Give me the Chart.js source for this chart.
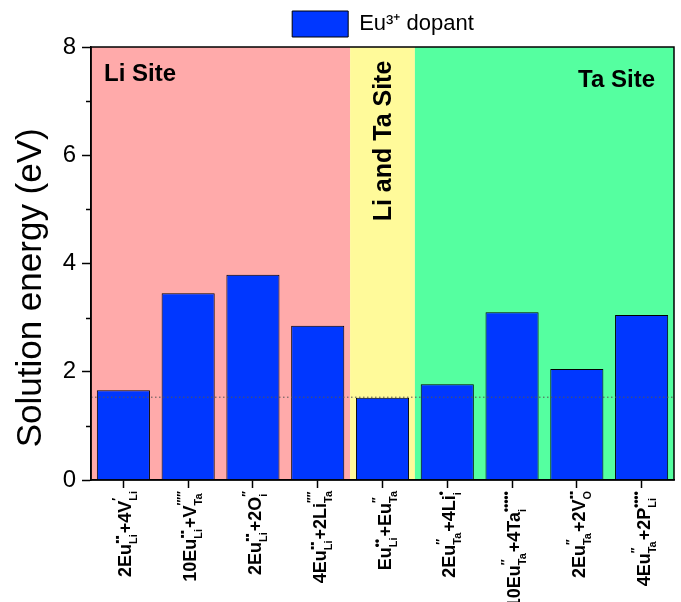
<!DOCTYPE html>
<html>
<head>
<meta charset="utf-8">
<script src="https://cdn.jsdelivr.net/npm/chart.js@4/dist/chart.umd.min.js"></script>
<style>
  body { margin: 0; background: #fff; }
  canvas { display: block; }
</style>
</head>
<body>
<canvas id="energyChart" width="681" height="602"></canvas>
<script>
// defect reactions, Kroger-Vink notation: _{sub} ^{sup}
const reactions = [
    '2Eu_{Li}^{▪▪}+4V_{Li}^{′}',
    '10Eu_{Li}^{▪▪}+V_{Ta}^{′′′′′}',
    '2Eu_{Li}^{▪▪}+2O_{i}^{′′}',
    '4Eu_{Li}^{▪▪}+2Li_{Ta}^{′′′′}',
    'Eu_{Li}^{••}+Eu_{Ta}^{′′}',
    '2Eu_{Ta}^{′′}+4Li_{i}^{•}',
    '10Eu_{Ta}^{′′}+4Ta_{i}^{•••••}',
    '2Eu_{Ta}^{′′}+2V_{O}^{▪▪}',
    '4Eu_{Ta}^{′′}+2P_{Li}^{••••}'
];
const energies = [1.66, 3.45, 3.79, 2.85, 1.52, 1.77, 3.10, 2.05, 3.05];
const refLevel = 1.53; // dotted line
const yTicks = [0, 2, 4, 6, 8];
const yMinorTicks = [1, 3, 5, 7];

// shaded site regions (category index ranges)
const regionNames = ['Li Site', 'Li and Ta Site', 'Ta Site'];
const regionFrom = [0, 4, 5];
const regionTo = [3, 4, 8];
const regionColors = ['#ffaaaa', '#fffa9a', '#55ffa0'];

// split 'Eu_{Li}^{••}' style strings into drawable pieces
function parseLabel(str) {
    const parts = [];
    const re = /([^_^]+)|_\{([^}]*)\}\^\{([^}]*)\}/g;
    let m;
    while ((m = re.exec(str)) !== null) {
        if (m[1]) parts.push({ main: m[1] });
        else parts.push({ sub: m[2], sup: m[3] });
    }
    return parts;
}

const mainFont = 'bold 18px "Liberation Sans", Arial, sans-serif';
const subFont = 'bold 11px "Liberation Sans", Arial, sans-serif';
const supFont = 'bold 12px "Liberation Sans", Arial, sans-serif';

const backdrop = {
    id: 'backdrop',
    beforeDraw(chart) {
        const { ctx, chartArea } = chart;
        const x = chart.scales.x;
        const edge = (i, side) => {
            if (side < 0 && i === 0) return chartArea.left;
            if (side > 0 && i === reactions.length - 1) return chartArea.right;
            return (x.getPixelForValue(i) + x.getPixelForValue(i + side)) / 2;
        };
        ctx.save();
        regionNames.forEach((name, r) => {
            const l = edge(regionFrom[r], -1);
            const rr = edge(regionTo[r], 1);
            ctx.fillStyle = regionColors[r];
            ctx.fillRect(l, chartArea.top, rr - l, chartArea.bottom - chartArea.top);
        });
        ctx.restore();
    },
    afterDatasetsDraw(chart) {
        const { ctx, chartArea } = chart;
        const y = chart.scales.y.getPixelForValue(refLevel);
        ctx.save();
        ctx.strokeStyle = '#555';
        ctx.lineWidth = 1;
        ctx.setLineDash([1.5, 2.5]);
        ctx.beginPath();
        ctx.moveTo(chartArea.left, y);
        ctx.lineTo(chartArea.right, y);
        ctx.stroke();
        ctx.restore();
    },
    afterDraw(chart) {
        const { ctx, chartArea } = chart;
        const x = chart.scales.x;
        const yS = chart.scales.y;
        ctx.save();
        // frame
        ctx.strokeStyle = '#000';
        ctx.lineWidth = 1.5;
        ctx.strokeRect(chartArea.left, chartArea.top, chartArea.right - chartArea.left, chartArea.bottom - chartArea.top);
        // minor ticks
        yMinorTicks.forEach(v => {
            const py = Math.round(yS.getPixelForValue(v)) + 0.5;
            ctx.beginPath();
            ctx.moveTo(chartArea.left - 5, py);
            ctx.lineTo(chartArea.left, py);
            ctx.stroke();
        });
        // region titles
        ctx.fillStyle = '#000';
        ctx.font = 'bold 24px "Liberation Sans", Arial, sans-serif';
        ctx.textBaseline = 'middle';
        ctx.textAlign = 'left';
        ctx.fillText(regionNames[0], chartArea.left + 13, chartArea.top + 27);
        ctx.textAlign = 'right';
        ctx.fillText(regionNames[2], chartArea.right - 19, chartArea.top + 33);
        ctx.save();
        ctx.translate(x.getPixelForValue(regionFrom[1]) + 2, chartArea.top + 94);
        ctx.rotate(-Math.PI / 2);
        ctx.textAlign = 'center';
        ctx.font = 'bold 25px "Liberation Sans", Arial, sans-serif';
        ctx.fillText(regionNames[1], 0, 0);
        ctx.restore();
        // category labels, rotated
        ctx.textAlign = 'left';
        ctx.textBaseline = 'alphabetic';
        reactions.forEach((lbl, i) => {
            const parts = parseLabel(lbl);
            let w = 0;
            parts.forEach(p => {
                if (p.main) { ctx.font = mainFont; p.w = ctx.measureText(p.main).width; }
                else {
                    ctx.font = subFont; const a = ctx.measureText(p.sub).width;
                    ctx.font = supFont; const b = ctx.measureText(p.sup).width;
                    p.w = Math.max(a, b) + 1;
                }
                w += p.w;
            });
            ctx.save();
            ctx.translate(x.getPixelForValue(i), chartArea.bottom + 10);
            ctx.rotate(-Math.PI / 2);
            let cx = -w;
            parts.forEach(p => {
                if (p.main) {
                    ctx.font = mainFont;
                    ctx.fillText(p.main, cx, 8);
                } else {
                    ctx.font = subFont;
                    ctx.fillText(p.sub, cx, 14);
                    ctx.font = supFont;
                    ctx.fillText(p.sup, cx, -2);
                }
                cx += p.w;
            });
            ctx.restore();
        });
        ctx.restore();
    },
    afterLayout(chart) {
        // legend sits over the plot rather than the whole canvas
        chart.legend.left += 46;
        chart.legend.right += 46;
    }
};

const ctx = document.getElementById('energyChart').getContext('2d');
const energyChart = new Chart(ctx, {
    type: 'bar',
    data: {
        labels: reactions,
        datasets: [{
            label: 'Eu³⁺ dopant',
            data: energies,
            backgroundColor: '#0037ff',
            borderColor: '#000',
            borderWidth: 1,
            barPercentage: 0.82,
            categoryPercentage: 1
        }]
    },
    options: {
        responsive: false,
        devicePixelRatio: 1,
        animation: false,
        layout: { padding: { top: 3, right: 7, left: 0, bottom: 0 } },
        scales: {
            x: {
                offset: true,
                grid: { offset: false, drawOnChartArea: false, tickLength: 8, tickColor: '#000', tickWidth: 1.5 },
                border: { color: '#000', width: 1.5 },
                ticks: { display: false },
                afterFit(scale) { scale.height = 122; }
            },
            y: {
                min: 0,
                max: 8,
                afterBuildTicks(scale) { scale.ticks = yTicks.map(v => ({ value: v })); },
                ticks: {
                    color: '#000',
                    padding: 6,
                    font: { family: '"Liberation Sans", Arial, sans-serif', size: 24 }
                },
                grid: { drawOnChartArea: false, tickLength: 9, tickColor: '#000', tickWidth: 1.5 },
                border: { color: '#000', width: 1.5 },
                title: {
                    display: true,
                    // trailing spaces nudge the centred title down like the original
                    text: 'Solution energy (eV)     ',
                    color: '#000',
                    padding: { top: 10, bottom: 0 },
                    font: { family: '"Liberation Sans", Arial, sans-serif', size: 35 }
                },
                afterFit(scale) { scale.width = 91; }
            }
        },
        plugins: {
            legend: {
                display: true,
                position: 'top',
                labels: {
                    color: '#000',
                    boxWidth: 56,
                    boxHeight: 26,
                    padding: 8,
                    font: { family: '"Liberation Sans", Arial, sans-serif', size: 22 }
                }
            },
            tooltip: { enabled: false }
        }
    },
    plugins: [backdrop]
});
</script>
</body>
</html>
